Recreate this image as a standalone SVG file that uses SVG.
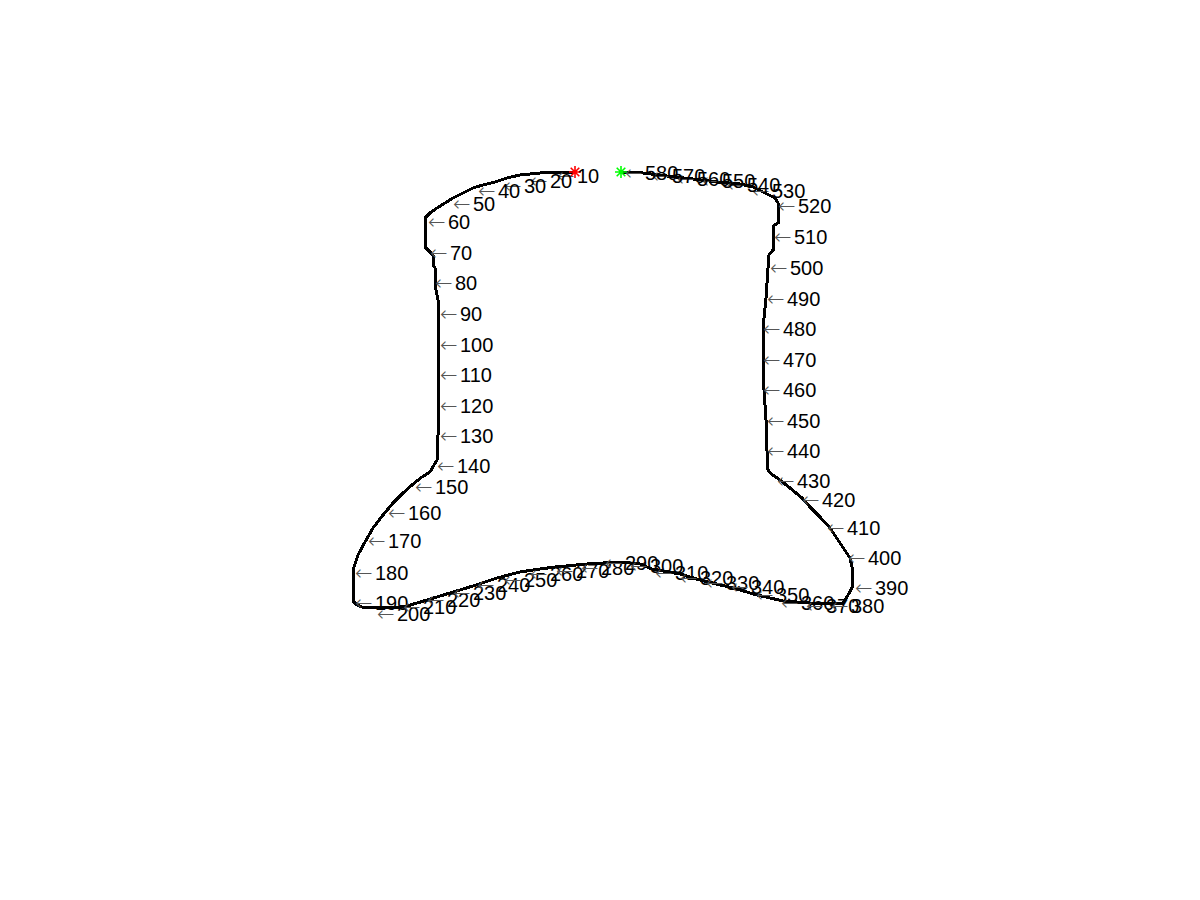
<svg xmlns="http://www.w3.org/2000/svg" width="1200" height="900" viewBox="0 0 1200 900">
<style>
.c{fill:none;stroke:#000;stroke-width:3;stroke-linejoin:miter}
.l{font-family:"Liberation Sans",Arial,sans-serif;font-size:20px;fill:#000}
.a{font-family:"DejaVu Sans",sans-serif;font-weight:200;font-size:21px;fill:#555}
.sr{stroke:#ff0000;stroke-width:1.6;fill:none}
.sg{stroke:#00ff00;stroke-width:1.6;fill:none}
</style>
<defs>
<path id="star" d="M-6,0H6M0,-6V6M-4.3,-4.3L4.3,4.3M-4.3,4.3L4.3,-4.3"/>
</defs>
<rect width="1200" height="900" fill="#fff"/>
<g id="contour" shape-rendering="crispEdges">
<polyline class="c" points="575,172 550,172 520,175 507,178 495,182 483,185 473,188 463,193 453,198 445,203 437,208 430,213 425,218 425,247 430,252 433,256 433,265 435,268 435,285 438,300 438,435 437,438 437,460 434,465 430,472 422,477 412,485 403,493 393,503 383,515 373,528 365,542 358,555 353,570 353,601 357,605 362,607 400,607 407,606 427,600 450,593 473,586 497,578 520,572 540,569 555,567 587,564 620,562 640,564 652,569 680,574 700,580 733,588 757,595 783,601 810,603 843,603 848,595 853,586 852,567 850,558 840,543 830,528 820,517 810,507 802,498 790,488 780,480 770,473 767,468 767,451 766,420 764,390 763,359 763,328 766,298 768,268 769,255 773,250 773,226 778,223 778,203 775,198 763,192 753,187 740,184 717,182 693,179 667,176 643,173 621,172"/>
</g>
<g id="markers">
<use href="#star" class="sr" x="575" y="172"/>
<use href="#star" class="sg" x="621" y="172"/>
</g>
<g id="labels">
<text id="t10" class="l" x="557" y="182.5"><tspan class="a">←</tspan><tspan x="577">10</tspan></text>
<text id="t20" class="l" x="530" y="188"><tspan class="a">←</tspan><tspan x="550">20</tspan></text>
<text id="t30" class="l" x="504" y="192.5"><tspan class="a">←</tspan><tspan x="524">30</tspan></text>
<text id="t40" class="l" x="478" y="197.5"><tspan class="a">←</tspan><tspan x="498">40</tspan></text>
<text id="t50" class="l" x="453" y="210.5"><tspan class="a">←</tspan><tspan x="473">50</tspan></text>
<text id="t60" class="l" x="428" y="228.5"><tspan class="a">←</tspan><tspan x="448">60</tspan></text>
<text id="t70" class="l" x="430" y="259.5"><tspan class="a">←</tspan><tspan x="450">70</tspan></text>
<text id="t80" class="l" x="435" y="290"><tspan class="a">←</tspan><tspan x="455">80</tspan></text>
<text id="t90" class="l" x="440" y="321"><tspan class="a">←</tspan><tspan x="460">90</tspan></text>
<text id="t100" class="l" x="440" y="351.5"><tspan class="a">←</tspan><tspan x="460">100</tspan></text>
<text id="t110" class="l" x="440" y="382"><tspan class="a">←</tspan><tspan x="460">110</tspan></text>
<text id="t120" class="l" x="440" y="412.5"><tspan class="a">←</tspan><tspan x="460">120</tspan></text>
<text id="t130" class="l" x="440" y="443"><tspan class="a">←</tspan><tspan x="460">130</tspan></text>
<text id="t140" class="l" x="437" y="473"><tspan class="a">←</tspan><tspan x="457">140</tspan></text>
<text id="t150" class="l" x="415" y="493.5"><tspan class="a">←</tspan><tspan x="435">150</tspan></text>
<text id="t160" class="l" x="388" y="519.5"><tspan class="a">←</tspan><tspan x="408">160</tspan></text>
<text id="t170" class="l" x="368" y="548"><tspan class="a">←</tspan><tspan x="388">170</tspan></text>
<text id="t180" class="l" x="355" y="579.5"><tspan class="a">←</tspan><tspan x="375">180</tspan></text>
<text id="t190" class="l" x="355" y="609.5"><tspan class="a">←</tspan><tspan x="375">190</tspan></text>
<text id="t200" class="l" x="377" y="620.5"><tspan class="a">←</tspan><tspan x="397">200</tspan></text>
<text id="t210" class="l" x="403" y="613.5"><tspan class="a">←</tspan><tspan x="423">210</tspan></text>
<text id="t220" class="l" x="427" y="607"><tspan class="a">←</tspan><tspan x="447">220</tspan></text>
<text id="t230" class="l" x="453" y="600"><tspan class="a">←</tspan><tspan x="473">230</tspan></text>
<text id="t240" class="l" x="477" y="592"><tspan class="a">←</tspan><tspan x="497">240</tspan></text>
<text id="t250" class="l" x="504" y="586.5"><tspan class="a">←</tspan><tspan x="524">250</tspan></text>
<text id="t260" class="l" x="530" y="581"><tspan class="a">←</tspan><tspan x="550">260</tspan></text>
<text id="t270" class="l" x="556" y="577.5"><tspan class="a">←</tspan><tspan x="576">270</tspan></text>
<text id="t280" class="l" x="581" y="574.5"><tspan class="a">←</tspan><tspan x="601">280</tspan></text>
<text id="t290" class="l" x="605" y="569.5"><tspan class="a">←</tspan><tspan x="625">290</tspan></text>
<text id="t300" class="l" x="630" y="573"><tspan class="a">←</tspan><tspan x="650">300</tspan></text>
<text id="t310" class="l" x="655" y="579.5"><tspan class="a">←</tspan><tspan x="675">310</tspan></text>
<text id="t320" class="l" x="680" y="585"><tspan class="a">←</tspan><tspan x="700">320</tspan></text>
<text id="t330" class="l" x="706" y="590"><tspan class="a">←</tspan><tspan x="726">330</tspan></text>
<text id="t340" class="l" x="731" y="594"><tspan class="a">←</tspan><tspan x="751">340</tspan></text>
<text id="t350" class="l" x="756" y="602"><tspan class="a">←</tspan><tspan x="776">350</tspan></text>
<text id="t360" class="l" x="781" y="609.5"><tspan class="a">←</tspan><tspan x="801">360</tspan></text>
<text id="t370" class="l" x="806" y="612.5"><tspan class="a">←</tspan><tspan x="826">370</tspan></text>
<text id="t380" class="l" x="831" y="613"><tspan class="a">←</tspan><tspan x="851">380</tspan></text>
<text id="t390" class="l" x="855" y="594.5"><tspan class="a">←</tspan><tspan x="875">390</tspan></text>
<text id="t400" class="l" x="848" y="564.5"><tspan class="a">←</tspan><tspan x="868">400</tspan></text>
<text id="t410" class="l" x="827" y="534.5"><tspan class="a">←</tspan><tspan x="847">410</tspan></text>
<text id="t420" class="l" x="802" y="507"><tspan class="a">←</tspan><tspan x="822">420</tspan></text>
<text id="t430" class="l" x="777" y="487.5"><tspan class="a">←</tspan><tspan x="797">430</tspan></text>
<text id="t440" class="l" x="767" y="457.5"><tspan class="a">←</tspan><tspan x="787">440</tspan></text>
<text id="t450" class="l" x="767" y="427.5"><tspan class="a">←</tspan><tspan x="787">450</tspan></text>
<text id="t460" class="l" x="763" y="397"><tspan class="a">←</tspan><tspan x="783">460</tspan></text>
<text id="t470" class="l" x="763" y="366.5"><tspan class="a">←</tspan><tspan x="783">470</tspan></text>
<text id="t480" class="l" x="763" y="336"><tspan class="a">←</tspan><tspan x="783">480</tspan></text>
<text id="t490" class="l" x="767" y="306"><tspan class="a">←</tspan><tspan x="787">490</tspan></text>
<text id="t500" class="l" x="770" y="274.5"><tspan class="a">←</tspan><tspan x="790">500</tspan></text>
<text id="t510" class="l" x="774" y="243.5"><tspan class="a">←</tspan><tspan x="794">510</tspan></text>
<text id="t520" class="l" x="778" y="213"><tspan class="a">←</tspan><tspan x="798">520</tspan></text>
<text id="t530" class="l" x="752" y="197.5"><tspan class="a">←</tspan><tspan x="772">530</tspan></text>
<text id="t540" class="l" x="727" y="191.5"><tspan class="a">←</tspan><tspan x="747">540</tspan></text>
<text id="t550" class="l" x="702" y="188"><tspan class="a">←</tspan><tspan x="722">550</tspan></text>
<text id="t560" class="l" x="677" y="186"><tspan class="a">←</tspan><tspan x="697">560</tspan></text>
<text id="t570" class="l" x="652" y="182.5"><tspan class="a">←</tspan><tspan x="672">570</tspan></text>
<text id="t580" class="l" x="625" y="179.5"><tspan class="a">←</tspan><tspan x="645">580</tspan></text>
</g>
</svg>
